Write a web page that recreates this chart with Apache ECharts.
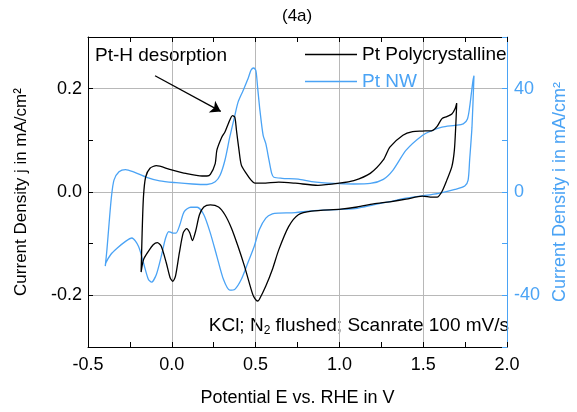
<!DOCTYPE html>
<html>
<head>
<meta charset="utf-8">
<script src="https://cdn.jsdelivr.net/npm/echarts@6/dist/echarts.min.js"></script>
<style>html,body{margin:0;padding:0;background:#fff}#c{width:577px;height:412px}</style>
</head>
<body>
<div id="c"></div>
<script>
// ---- data ----
const seriesNames = ['Pt Polycrystalline', 'Pt NW'];
// Pt Polycrystalline: potential (V vs RHE) and current density j (mA/cm2, left axis)
const polyE = [-0.183,-0.177,-0.169,-0.156,-0.130,-0.092,-0.013,0.084,0.181,0.210,0.230,0.259,0.269,0.298,0.317,0.337,0.362,0.376,0.386,0.401,0.415,0.444,0.473,0.496,0.541,0.638,0.736,0.872,0.999,1.086,1.184,1.262,1.301,1.379,1.437,1.495,1.554,1.583,1.612,1.641,1.671,1.690,1.700,
  1.694,1.686,1.671,1.641,1.612,1.583,1.554,1.495,1.398,1.301,1.203,1.106,1.009,0.834,0.755,0.697,0.638,0.600,0.561,0.522,0.512,0.488,0.473,0.434,0.395,0.356,0.317,0.279,0.230,0.191,0.165,0.142,0.123,0.107,0.088,0.068,0.045,0.022,0.006,-0.010,-0.033,-0.063,-0.086,-0.111,-0.140,-0.169,-0.183];
const polyJ = [-0.155,-0.079,-0.009,0.029,0.046,0.051,0.044,0.036,0.031,0.031,0.034,0.055,0.081,0.106,0.116,0.132,0.148,0.145,0.119,0.081,0.052,0.036,0.023,0.017,0.017,0.019,0.017,0.013,0.017,0.022,0.036,0.062,0.087,0.110,0.117,0.118,0.119,0.127,0.142,0.146,0.151,0.161,0.172,
  0.126,0.081,0.049,0.023,0.001,-0.010,-0.010,-0.008,-0.014,-0.019,-0.023,-0.029,-0.033,-0.037,-0.044,-0.067,-0.112,-0.150,-0.182,-0.208,-0.211,-0.202,-0.188,-0.144,-0.105,-0.070,-0.044,-0.029,-0.025,-0.029,-0.044,-0.076,-0.094,-0.079,-0.071,-0.079,-0.118,-0.163,-0.173,-0.166,-0.137,-0.105,-0.098,-0.102,-0.115,-0.131,-0.155];
// Pt NW: potential and current density i (mA/cm2, right axis)
const nwE = [-0.397,-0.387,-0.374,-0.360,-0.345,-0.315,-0.276,-0.228,-0.150,-0.072,0.025,0.123,0.210,0.259,0.288,0.317,0.346,0.376,0.395,0.425,0.454,0.473,0.489,0.502,0.512,0.526,0.545,0.561,0.580,0.596,0.609,0.658,0.755,0.834,0.970,1.086,1.184,1.262,1.320,1.398,1.495,1.554,1.612,1.690,1.739,1.764,1.777,1.787,1.797,1.803,
  1.791,1.777,1.768,1.748,1.690,1.593,1.495,1.398,1.301,1.203,1.106,1.009,0.834,0.736,0.638,0.600,0.561,0.522,0.492,0.454,0.415,0.376,0.346,0.308,0.269,0.230,0.191,0.152,0.113,0.074,0.048,0.025,0.006,-0.018,-0.037,-0.063,-0.092,-0.121,-0.140,-0.169,-0.199,-0.238,-0.276,-0.325,-0.364,-0.393,-0.397];
const nwI = [-28.7,-22.3,-12.0,-1.8,4.6,7.8,8.7,7.8,5.7,4.3,3.6,3.1,2.9,4.0,6.5,12.3,21.3,29.6,34.7,39.2,43.7,47.2,48.0,46.9,40.5,31.5,21.9,18.7,12.3,7.2,5.7,5.3,5.0,4.0,3.3,3.1,3.3,4.9,8.5,16.2,21.9,23.8,25.1,25.8,26.4,28.3,32.8,38.0,43.1,45.0,
  25.1,12.3,4.6,2.3,1.0,-0.5,-1.5,-2.4,-3.7,-5.0,-6.3,-6.7,-7.3,-8.0,-8.2,-8.5,-10.1,-14.6,-21.0,-27.4,-33.8,-37.7,-38.0,-33.8,-24.9,-15.9,-8.8,-5.9,-5.9,-7.6,-12.7,-15.9,-15.9,-15.3,-17.8,-24.9,-31.9,-34.9,-33.8,-27.4,-21.0,-17.8,-19.1,-21.7,-24.2,-27.4,-28.7];
// axis ranges / ticks
const xRange = [-0.5, 2.0], xTickStep = 0.25;
const jRange = [-0.3, 0.3], jTickStep = 0.1;
const iRange = [-60, 60], iTickStep = 20;
// annotation arrow (data space)
const arrowFrom = [-0.10, 0.225], arrowTo = [0.292, 0.156];

const BLUE = '#4aa3f5';
const FONT = '"Liberation Sans", Arial, sans-serif';
const zip = (a, b) => a.map((v, k) => [v, b[k]]);

const chart = echarts.init(document.getElementById('c'), null, {renderer: 'canvas'});
const grey = '#b8b8b8', clear = 'rgba(0,0,0,0)';
chart.setOption({
  animation: false,
  backgroundColor: '#fff',
  textStyle: {fontFamily: FONT},
  grid: {left: 88, right: 61, top: 37, bottom: 65, containLabel: false},
  legend: {
    orient: 'vertical', left: 305, top: 45, padding: 0, itemWidth: 52, itemHeight: 1.4, itemGap: 8,
    icon: 'rect',
    textStyle: {fontFamily: FONT, fontSize: 19},
    data: [
      {name: seriesNames[0], textStyle: {color: '#000'}},
      {name: seriesNames[1], textStyle: {color: BLUE}}
    ]
  },
  xAxis: [{
    type: 'value', min: xRange[0], max: xRange[1], interval: xTickStep,
    name: 'Potential E vs. RHE in V', nameLocation: 'middle', nameGap: 42,
    nameTextStyle: {fontFamily: FONT, fontSize: 18, color: '#000'},
    axisLine: {onZero: false, lineStyle: {color: '#000', width: 1}},
    axisTick: {inside: true, length: 5, lineStyle: {color: '#000'}},
    axisLabel: {margin: 9, fontFamily: FONT, fontSize: 18, color: '#000',
      formatter: v => (Math.round(v * 4) % 2 === 0) ? v.toFixed(1) : ''},
    splitLine: {show: true, lineStyle: {color: [grey, clear], width: 1}}
  }, {
    type: 'value', position: 'top', min: xRange[0], max: xRange[1], interval: xTickStep,
    axisLine: {onZero: false, lineStyle: {color: '#000', width: 1}},
    axisTick: {inside: true, length: 5, lineStyle: {color: '#000'}},
    axisLabel: {show: false}, splitLine: {show: false}
  }],
  yAxis: [{
    type: 'value', min: jRange[0], max: jRange[1], interval: jTickStep,
    name: 'Current Density j in mA/cm²', nameLocation: 'middle', nameGap: 58, nameRotate: 90,
    nameTextStyle: {fontFamily: FONT, fontSize: 17, color: '#000'},
    axisLine: {onZero: false, lineStyle: {color: '#000', width: 1}},
    axisTick: {inside: true, length: 5, lineStyle: {color: '#000'}},
    axisLabel: {margin: 6, fontFamily: FONT, fontSize: 18, color: '#000',
      formatter: v => (Math.abs(Math.round(v * 10)) % 2 === 0 && Math.abs(v) < 0.25) ? v.toFixed(1) : ''},
    splitLine: {show: true, lineStyle: {color: [clear, grey], width: 1}}
  }, {
    type: 'value', position: 'right', min: iRange[0], max: iRange[1], interval: iTickStep,
    name: 'Current Density i in mA/cm²', nameLocation: 'middle', nameGap: 44, nameRotate: 90,
    nameTextStyle: {fontFamily: FONT, fontSize: 18, color: BLUE},
    axisLine: {onZero: false, lineStyle: {color: BLUE, width: 1}},
    axisTick: {inside: true, length: 5, lineStyle: {color: BLUE}},
    axisLabel: {margin: 7, fontFamily: FONT, fontSize: 18, color: BLUE,
      formatter: v => (Math.round(v) % 40 === 0 && Math.abs(v) < 50) ? String(Math.round(v)) : ''},
    splitLine: {show: false}
  }],
  series: [{
    name: seriesNames[0], type: 'line', xAxisIndex: 0, yAxisIndex: 0, z: 4,
    data: zip(polyE, polyJ), showSymbol: false, symbol: 'none', smooth: 0.25,
    lineStyle: {color: '#000', width: 1.3}, itemStyle: {color: '#000'},
    markLine: {
      silent: true, symbol: ['none', 'arrow'], symbolSize: 10,
      lineStyle: {color: '#000', width: 1.3, type: 'solid'}, label: {show: false},
      data: [[{coord: arrowFrom}, {coord: arrowTo}]]
    }
  }, {
    name: seriesNames[1], type: 'line', xAxisIndex: 0, yAxisIndex: 1, z: 3,
    data: zip(nwE, nwI), showSymbol: false, symbol: 'none', smooth: 0.25,
    lineStyle: {color: BLUE, width: 1.3}, itemStyle: {color: BLUE}
  }],
  graphic: [
    {type: 'text', left: 282, top: 8, style: {text: '(4a)', font: '17px ' + FONT, fill: '#000'}},
    {type: 'text', left: 95, top: 46, style: {text: 'Pt-H desorption', font: '19px ' + FONT, fill: '#000'}},
    {type: 'text', right: 68, top: 316, style: {
      text: 'KCl; N{sub|2} flushed; Scanrate 100 mV/s', font: '19px ' + FONT, fill: '#000',
      rich: {sub: {fontSize: 12, fontFamily: FONT, verticalAlign: 'bottom', padding: [11, 0, 0, 0]}}
    }}
  ]
});
</script>
</body>
</html>
